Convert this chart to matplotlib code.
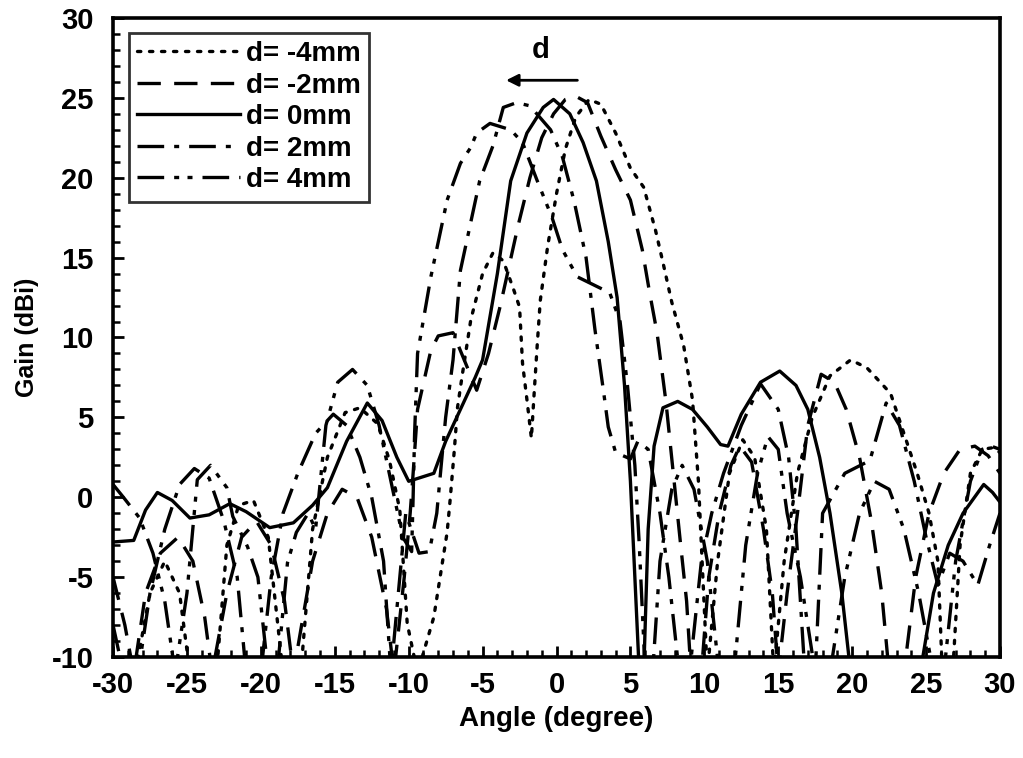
import matplotlib
matplotlib.use("Agg")
import matplotlib.pyplot as plt
from matplotlib.ticker import MultipleLocator

# --- data (angle in degree, gain in dBi) ---
# values below -10 just mean "goes off the bottom of the plot"
ang_m4 = [-30, -28.5, -27.5, -26.5, -25.5, -24.8, -23, -22.3, -21.5, -20.5, -19.5, -18.5, -17.3,
          -16.5, -15.5, -14.3, -13.3, -12.1, -11.3, -10.6, -10.1, -9.4, -8.3, -7.4, -7.2, -6.9,
          -6.7, -6.4, -5.8, -5.0, -4.3, -3.6, -2.9, -2.5, -2.3, -2.0, -1.7, -1.5, -1.3, -1.1,
          -0.6, 0.0, 0.6, 1.3, 2.2, 3.0, 4.0, 5.0, 5.9, 6.7, 7.2, 7.8, 8.6, 9.2, 9.6, 9.9,
          10.2, 10.9, 11.7, 12.6, 13.4, 14.2, 14.7, 15.4, 16.3, 17.3, 18.5, 19.9, 21.0, 22.6,
          23.5, 24.4, 25.2, 25.8, 26.1, 26.8, 27.3, 28.0, 28.8, 29.5, 30]
gain_m4 = [-11, -11, -6, -4, -6, -11, -11, -3, -0.5, -0.2, -2.5, -11, -11,
           -2, 2.5, 5.3, 5.6, 4.6, 2.3, -0.8, -7.9, -11, -7.5, -2.2, -0.2, 3.1,
           5.6, 7.5, 11.1, 14.0, 15.3, 14.8, 13.0, 11.9, 8.4, 6.1, 3.7, 6.7, 9.6, 12.3,
           15.7, 19.0, 21.8, 23.8, 24.9, 24.6, 22.8, 20.6, 19.4, 16.7, 14.7, 12.2, 9.5, 6.1, 1.0, -5,
           -11, -4, 1.5, 3.6, 2.5, -2, -11, -4, 1.5, 5.0, 7.6, 8.6, 8.1, 6.5,
           4.0, 1.5, -1, -4, -11, -11, -3, 1.5, 3.0, 3.1, 2.8]

ang_m2 = [-30, -29.2, -28.6, -27.8, -26.8, -25.6, -24.6, -23.8, -23.3, -22.3, -21.3, -20.3, -19.3,
          -18.4, -17.8, -16.5, -15.5, -14.5, -13.5, -12.5, -11.5, -11.0, -10.3, -9.9, -9.7, -9.4,
          -8.5, -8.0, -7.0, -6.2, -5.4, -4.6, -3.8, -3.2, -2.6, -1.8, -1.0, -0.2, 0.6, 1.3,
          2.1, 3.0, 4.0, 5.0, 5.8, 6.3, 6.8, 7.4, 7.9, 8.4, 8.8, 9.1, 9.8, 10.3, 11.0, 11.8,
          12.4, 13.2, 14.0, 14.6, 15.0, 15.6, 16.3, 17.0, 17.9, 18.8, 19.6, 20.5, 21.3, 22.0,
          22.5, 23.5, 24.3, 25.2, 26.2, 27.3, 28.3, 29.2, 30]
gain_m2 = [-5, -8, -11, -6, -3.5, -2.5, -4, -7.5, -11, -6, -2.5, -1.5, -3,
           -6.5, -11, -4, -1, 0.5, 0, -2.5, -7, -11, -5, -1, 1.5, 5.5,
           9.2, 10.1, 10.3, 8.5, 6.7, 9.0, 12.0, 14.5, 17.0, 20.0, 22.5, 24.0, 24.9, 25.1,
           24.7, 22.6, 20.5, 18.6, 15.5, 12.8, 10.3, 6.0, 1.5, -3, -6.5, -11, -11, -5, -1, 2,
           3.2, 2.2, -2, -6, -11, -6, -1, 4.5, 7.7, 7.2, 5.5, 2.5, -1.5, -6,
           -11, -11, -5, -1, 1.5, 3.0, 3.2, 2.6, 1.5]

ang_0 = [-30, -28.6, -27.8, -27.0, -26.0, -24.8, -23.5, -22.1, -21.0, -19.4, -17.8, -16.5, -15.5,
         -14.2, -12.8, -11.8, -10.8, -10.0, -8.3, -7.5, -6.5, -5.5, -5.0, -4.0, -3.1, -2.0,
         -0.9, -0.2, 0.9, 1.8, 2.7, 3.5, 4.1, 4.6, 5.0, 5.3, 5.6, 5.9, 6.2, 6.6, 7.2, 8.2,
         9.2, 10.2, 11.1, 11.6, 12.5, 13.8, 15.1, 16.2, 17.0, 17.8, 18.5, 19.3, 19.9, 24.6,
         25.5, 26.5, 27.5, 28.9, 29.5, 30]
gain_0 = [-2.8, -2.7, -0.8, 0.3, -0.2, -1.3, -1.1, -0.4, -0.9, -1.9, -1.6, -0.5, 0.6,
          3.5, 5.9, 4.8, 2.5, 1.0, 1.5, 3.5, 5.5, 7.5, 8.6, 14.0, 19.8, 22.8,
          24.4, 24.9, 24.0, 22.2, 19.8, 16.0, 12.5, 7.0, 1.0, -5, -11, -11, -2, 3.2, 5.6, 6.0,
          5.5, 4.4, 3.3, 3.2, 5.2, 7.2, 7.9, 7.0, 5.5, 2.5, -1, -6, -11, -11,
          -6, -3, -1, 0.8, 0.3, -0.3]

ang_p2 = [-30, -29.3, -28.3, -27.5, -26.5, -25.5, -24.5, -23.5, -22.5, -21.6, -21.0, -20.0, -19.3,
          -18.5, -17.5, -16.3, -15.1, -14.2, -13.3, -12.5, -11.7, -11.2, -10.2, -9.3, -8.6, -8.1,
          -7.5, -7.0, -6.5, -5.2, -4.3, -3.6, -2.7, -1.8, -0.4, 0.4, 1.2, 2.0, 2.6, 3.2, 3.5,
          4.0, 5.0, 5.5, 6.2, 7.0, 7.6, 8.3, 9.0, 9.8, 10.5, 11.3, 12.5, 13.8, 15.0, 15.7, 16.2,
          16.8, 17.5, 18.0, 19.5, 21.2, 22.3, 23.2, 24.2, 25.0, 25.8, 26.6, 27.5, 28.5, 29.3, 30]
gain_p2 = [-8, -11, -11, -6, -2, 0.8, 1.8, 1.2, -1.5, -5, -11, -11, -5,
           -1, 1.5, 4.0, 5.2, 4.5, 2.5, 0, -4, -11, -1, -3.5, -3.4, -1,
           5.0, 8.6, 14.2, 19.8, 22.0, 24.4, 24.7, 24.5, 23.0, 21.3, 18.5, 15.0, 10.5, 6.5, 4.4,
           2.8, 2.4, 3.5, 3.0, -1, -5, -11, -11, -4, -1, 1.5, 4.5, 7.1, 5.5, 2.5, -2,
           -11, -11, -1, 1.5, 2.3, 5.9, 4.5, 1.0, -2.5, -5.5, -3.5, -4, -5.5, -3, -1]

ang_p4 = [-30, -29.3, -28.2, -27.3, -26.5, -25.8, -25.0, -24.3, -23.4, -22.3, -21.9, -20.9, -20.2,
          -19.5, -18.9, -18.2, -17.6, -16.8, -16.3, -15.6, -14.8, -13.8, -12.8, -12.0, -11.2, -10.4,
          -9.8, -9.7, -9.6, -9.4, -8.5, -7.4, -6.5, -5.8, -5.4, -4.5, -3.1, -2.3, -1.3, -0.3,
          0.4, 1.4, 2.5, 3.6, 4.3, 4.8, 5.3, 5.6, 6.0, 6.5, 7.0, 7.8, 8.5, 9.3, 10.2, 11.0,
          12.0, 12.8, 13.6, 14.3, 15.0, 15.6, 16.5, 17.5, 18.5, 19.5, 20.5, 21.5, 22.5, 23.5,
          24.5, 25.5, 26.2, 27.0, 28.0, 28.8, 29.4, 30]
gain_p4 = [0.8, 0, -1.3, -3.5, -6.5, -11, -6, 1.1, 2.0, 0.6, -1.2, -3.1, -5,
           -11, -11, -4.1, -2.2, -1, -2, 4.5, 7.2, 8.0, 7.0, 4.5, 1.0, -2.5,
           -3.4, 0, 4, 9.0, 13.8, 18.6, 20.9, 21.9, 22.8, 23.4, 23.0, 22.2, 19.8, 17.5,
           15.5, 13.8, 13.3, 12.8, 11.0, 7.0, 2.0, -3, -11, -11, -4, 0.5, 2.0, 0.5, -4, -11,
           -11, -3, 1.5, 3.8, 3.0, -1, -5, -11, -11, -5, -1, 1.0, 0.5, -2,
           -6, -11, -11, -4, 1.0, 3.0, 3.2, 3.0]

labels = ["d= -4mm", "d= -2mm", "d= 0mm", "d= 2mm", "d= 4mm"]
x_ticks = list(range(-30, 31, 5))
y_ticks = list(range(-10, 31, 5))

plt.rcParams["font.family"] = ["Liberation Sans", "DejaVu Sans"]
plt.rcParams["font.weight"] = "bold"
plt.rcParams["axes.unicode_minus"] = False

fig = plt.figure(figsize=(10.23, 7.58), dpi=100)
ax = fig.add_axes([0.1105, 0.1332, 0.867, 0.8431])

lw = 2.4
ax.plot(ang_m4, gain_m4, color="black", lw=lw, dashes=(1.0, 2.6), dash_capstyle="round", label=labels[0])
ax.plot(ang_m2, gain_m2, color="black", lw=lw, dashes=(7, 4), label=labels[1])
ax.plot(ang_0, gain_0, color="black", lw=lw, label=labels[2])
ax.plot(ang_p2, gain_p2, color="black", lw=lw, dashes=(8, 3, 1.5, 3), label=labels[3])
ax.plot(ang_p4, gain_p4, color="black", lw=lw, dashes=(8, 3, 1.5, 2.5, 1.5, 3), label=labels[4])

ax.set_xlim(-30, 30)
ax.set_ylim(-10, 30)
ax.set_xticks(x_ticks)
ax.set_yticks(y_ticks)
ax.xaxis.set_minor_locator(MultipleLocator(1))
ax.yaxis.set_minor_locator(MultipleLocator(1))
ax.tick_params(which="major", direction="in", length=8, width=2, labelsize=21, pad=10)
ax.tick_params(axis="y", which="major", pad=14)
ax.tick_params(which="minor", direction="in", length=5, width=1.8)
for s in ax.spines.values():
    s.set_linewidth(2.6)

ax.set_xlabel("Angle (degree)", fontsize=20, fontweight="bold", labelpad=5)
ax.set_ylabel("Gain (dBi)", fontsize=18, fontweight="bold", labelpad=9)

# shift arrow above the main beams
ax.annotate("", xy=(-3.6, 26.1), xytext=(1.6, 26.1),
            arrowprops=dict(arrowstyle="-|>", color="black", lw=2, mutation_scale=18))
ax.text(-1.1, 28.0, "d", fontsize=21, fontweight="bold", ha="center", va="center")

leg = ax.legend(loc="upper left", bbox_to_anchor=(0.018, 0.977), fontsize=20, frameon=True,
                fancybox=False, edgecolor="black", handlelength=3.7, handletextpad=0.2,
                borderpad=0.3, labelspacing=0.2, borderaxespad=0)
leg.get_frame().set_linewidth(2)

fig.savefig("out.png", dpi=100)
